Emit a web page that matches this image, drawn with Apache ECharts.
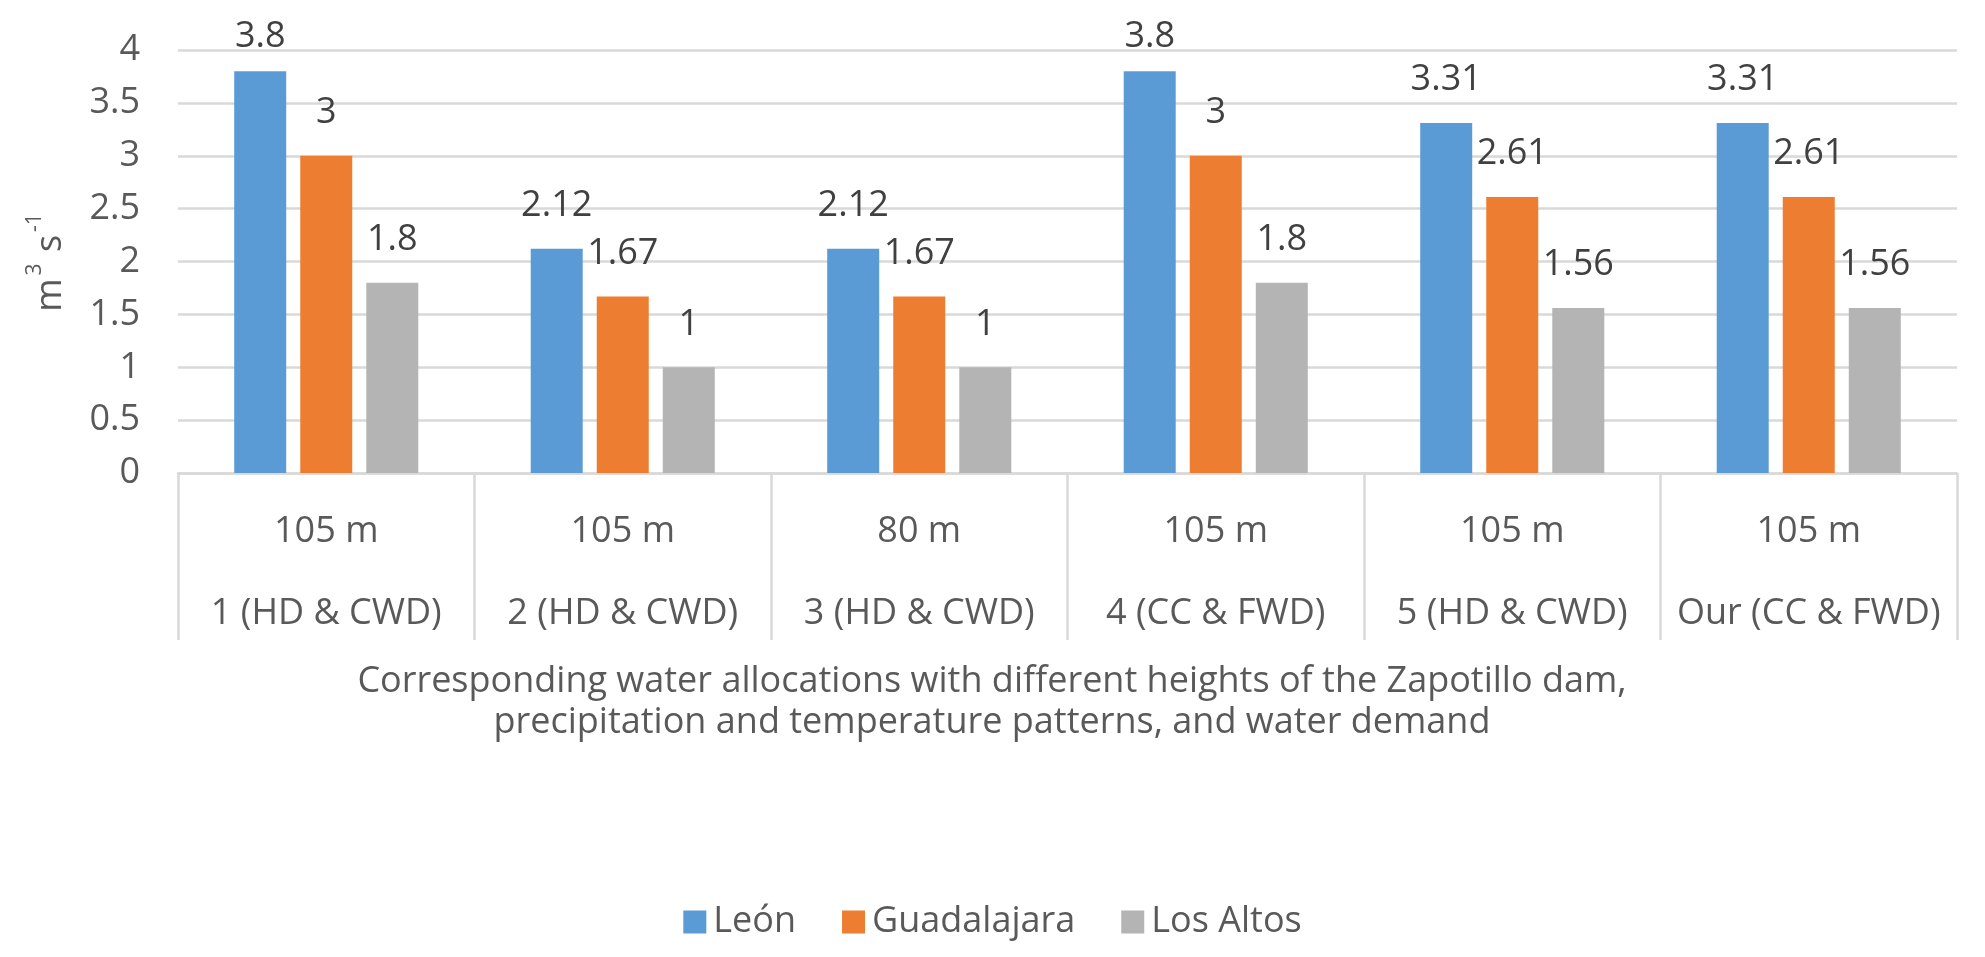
<!DOCTYPE html>
<html>
<head>
<meta charset="utf-8">
<script src="https://cdn.jsdelivr.net/npm/echarts@6/dist/echarts.min.js"></script>
<style>
html,body{margin:0;padding:0;background:#fff;}
#chart{width:1985px;height:957px;}
</style>
</head>
<body>
<div id="chart"></div>
<script>
const heights = ['105 m', '105 m', '80 m', '105 m', '105 m', '105 m'];
const scenarios = ['1 (HD & CWD)', '2 (HD & CWD)', '3 (HD & CWD)', '4 (CC & FWD)', '5 (HD & CWD)', 'Our (CC & FWD)'];
const leon = [3.8, 2.12, 2.12, 3.8, 3.31, 3.31];
const guadalajara = [3, 1.67, 1.67, 3, 2.61, 2.61];
const losAltos = [1.8, 1, 1, 1.8, 1.56, 1.56];
const seriesNames = ['León', 'Guadalajara', 'Los Altos'];
const yTicks = { min: 0, max: 4, interval: 0.5 };
const xTitleLines = [
  'Corresponding water allocations with different heights of the Zapotillo dam,',
  'precipitation and temperature patterns, and water demand'
];

const categories = heights.map((h, i) => h + '\n' + scenarios[i]);
const FONT = 'Open Sans';
const AXIS_COLOR = '#595959';
const colors = ['#5b9bd5', '#ed7d31', '#b4b4b4'];

const chart = echarts.init(document.getElementById('chart'));

function barSeries(name, data, color) {
  return {
    name: name,
    type: 'bar',
    // labels near the top of the plot are pulled slightly closer to the bar (as in the original)
    data: data.map(v => v > 3.7 ? { value: v, label: { distance: 16 } } : v),
    barWidth: 52,
    barGap: '27%',
    itemStyle: { color: color },
    label: {
      show: true,
      position: 'top',
      distance: 25,
      color: '#404040',
      fontFamily: FONT,
      fontSize: 36
    }
  };
}

chart.setOption({
  animation: false,
  backgroundColor: '#ffffff',
  textStyle: { fontFamily: FONT },
  grid: { left: 178, right: 28, top: 50, bottom: 484, containLabel: false },
  legend: {
    data: seriesNames,
    left: 'center',
    top: 899,
    itemWidth: 23,
    itemHeight: 23,
    itemGap: 46,
    icon: 'rect',
    textStyle: { color: AXIS_COLOR, fontSize: 36, fontFamily: FONT, padding: [0, 0, 0, 2] }
  },
  xAxis: {
    type: 'category',
    data: categories,
    boundaryGap: true,
    axisLine: { show: true, lineStyle: { color: '#d9d9d9', width: 2.5 } },
    axisTick: { show: true, length: 167, alignWithLabel: false, lineStyle: { color: '#d9d9d9', width: 2.5 } },
    axisLabel: {
      color: AXIS_COLOR,
      fontSize: 36,
      fontFamily: FONT,
      lineHeight: 82,
      margin: 18,
      interval: 0
    }
  },
  yAxis: {
    type: 'value',
    min: yTicks.min,
    max: yTicks.max,
    interval: yTicks.interval,
    name: '{a|m}{s|3}{a| s}{s|-1}',
    nameLocation: 'middle',
    nameGap: 109,
    nameRotate: 90,
    nameTextStyle: {
      color: AXIS_COLOR,
      fontSize: 36,
      fontFamily: FONT,
      rich: {
        a: { fontSize: 36, fontFamily: FONT, color: AXIS_COLOR, lineHeight: 44, verticalAlign: 'bottom' },
        s: { fontSize: 21, fontFamily: FONT, color: AXIS_COLOR, lineHeight: 17, verticalAlign: 'top', padding: [0, 2, 0, 3] }
      }
    },
    axisLine: { show: false },
    axisTick: { show: false },
    splitLine: { show: true, lineStyle: { color: '#d9d9d9', width: 2.5 } },
    axisLabel: { color: AXIS_COLOR, fontSize: 36, fontFamily: FONT, margin: 38 }
  },
  graphic: [0, 1].map(i => ({
    type: 'text',
    x: 992,
    y: 682 + i * 41,
    style: {
      text: xTitleLines[i],
      fill: AXIS_COLOR,
      fontSize: 36,
      fontFamily: FONT,
      align: 'center',
      verticalAlign: 'middle'
    }
  })),
  series: [
    barSeries(seriesNames[0], leon, colors[0]),
    barSeries(seriesNames[1], guadalajara, colors[1]),
    barSeries(seriesNames[2], losAltos, colors[2])
  ]
});
</script>
</body>
</html>
